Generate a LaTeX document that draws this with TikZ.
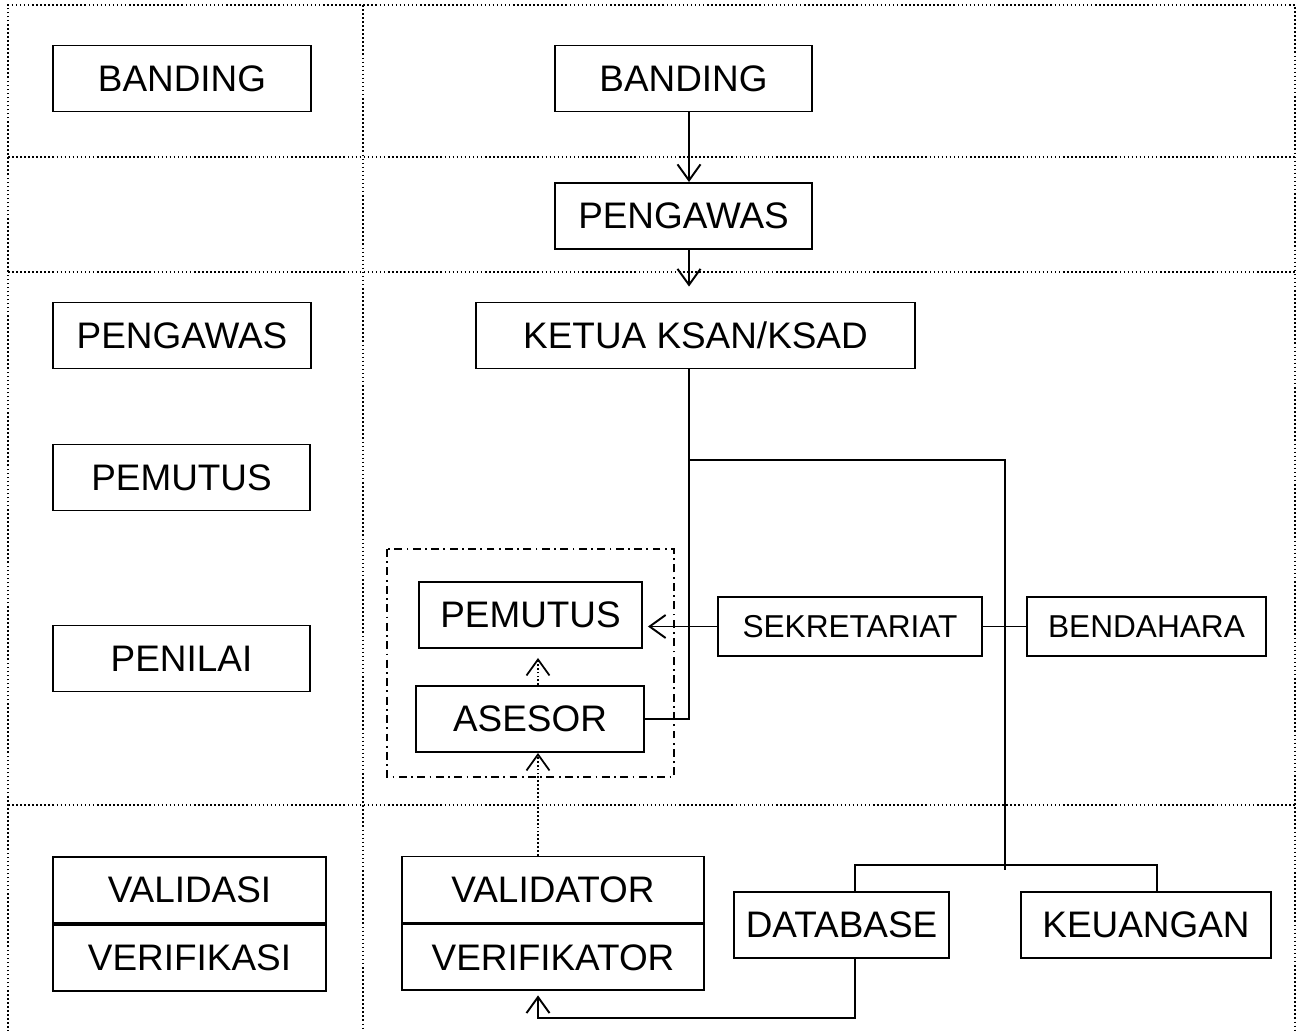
\documentclass[tikz,border=0pt]{standalone}
\usepackage{fontspec}
\setmainfont{Liberation Sans}
\usetikzlibrary{arrows.meta}

\begin{document}
\begin{tikzpicture}[
  box/.style={draw,line width=1.1pt,minimum height=1.32cm,inner sep=0pt,font=\fontsize{21}{25}\selectfont},
  sbox/.style={box,minimum height=1.18cm,font=\fontsize{18}{22}\selectfont},
  grid/.style={line width=0.9pt,dash pattern=on 0.9pt off 1.4pt},
  link/.style={line width=1.1pt},
  dots/.style={line width=1pt,dash pattern=on 1pt off 1.2pt},
  dashdot/.style={line width=1.1pt,dash pattern=on 4.5pt off 2.5pt on 1pt off 2.5pt},
  >={Straight Barb[length=0.32cm,width=0.46cm]}
]
\useasboundingbox (0,0) rectangle (26.02,-20.62);
% frame
\draw[grid] (0.16,-20.8) -- (0.16,-0.1) -- (25.9,-0.1) -- (25.9,-20.8);
\draw[grid] (7.26,-0.1) -- (7.26,-20.8);
\foreach \y in {-3.14,-5.44,-16.1} \draw[grid] (0.16,\y) -- (25.9,\y);
% left column
\node[box,minimum width=5.16cm] (lbanding)at(3.64,-1.57){BANDING};
\node[box,minimum width=5.16cm] (lpengawas)at(3.64,-6.71){PENGAWAS};
\node[box,minimum width=5.14cm] (lpemutus)at(3.63,-9.55){PEMUTUS};
\node[box,minimum width=5.14cm] (lpenilai)at(3.63,-13.17){PENILAI};
\node[box,minimum width=5.46cm] (validasi)at(3.79,-17.80){VALIDASI};
\node[box,minimum width=5.46cm,anchor=north] (verifikasi)at(validasi.south){VERIFIKASI};
% right column
\node[box,minimum width=5.14cm] (banding)at(13.67,-1.57){BANDING};
\node[box,minimum width=5.14cm] (pengawas)at(13.67,-4.32){PENGAWAS};
\node[box,minimum width=8.78cm] (ketua)at(13.91,-6.71){KETUA KSAN/KSAD};
\node[box,minimum width=4.46cm] (pemutus)at(10.61,-12.30){PEMUTUS};
\node[box,minimum width=4.56cm] (asesor)at(10.60,-14.38){ASESOR};
\node[sbox,minimum width=5.28cm] (sekretariat)at(17.0,-12.53){SEKRETARIAT};
\node[sbox,minimum width=4.78cm] (bendahara)at(22.93,-12.53){BENDAHARA};
\node[box,minimum width=6.04cm] (validator)at(11.06,-17.79){VALIDATOR};
\node[box,minimum width=6.04cm,anchor=north] (verifikator)at(validator.south){VERIFIKATOR};
\node[box,minimum width=4.30cm] (database)at(16.83,-18.50){DATABASE};
\node[box,minimum width=5.0cm] (keuangan)at(22.92,-18.50){KEUANGAN};
\draw[dashdot] (7.74,-10.98) rectangle (13.48,-15.54);
% connectors
\coordinate (fork)at(13.78,-9.2);
\coordinate (hub)at(20.10,-17.30);
\coordinate (dl)at(17.10,-17.30);
\coordinate (dr)at(23.14,-17.30);
\coordinate (dbot)at(17.10,-20.36);
\coordinate (col)at(10.76,0);
\draw[link,->] (banding.south -| fork) to (pengawas.north -| fork);
\draw[link,->] (pengawas.south -| fork) to ([yshift=0.3cm]ketua.north -| fork);
\draw[link] (ketua.south -| fork) |- (asesor.east);
\draw[link] (fork) -| ([yshift=-0.1cm]hub);
\draw[link] (database.north -| dl) -- (dl) -- (dr) -- (keuangan.north -| dr);
\draw[link,->] (sekretariat.west) to ([xshift=0.1cm]pemutus.east |- sekretariat.west);
\draw[link] (sekretariat.east) to (bendahara.west);
\draw[dots,->] (asesor.north -| col) to ([yshift=-0.18cm]pemutus.south -| col);
\draw[dots,->] (validator.north -| col) to (asesor.south -| col);
\draw[link,->] (database.south -| dl) -- (dbot) -| ([yshift=-0.08cm]verifikator.south -| col);
\end{tikzpicture}
\end{document}
